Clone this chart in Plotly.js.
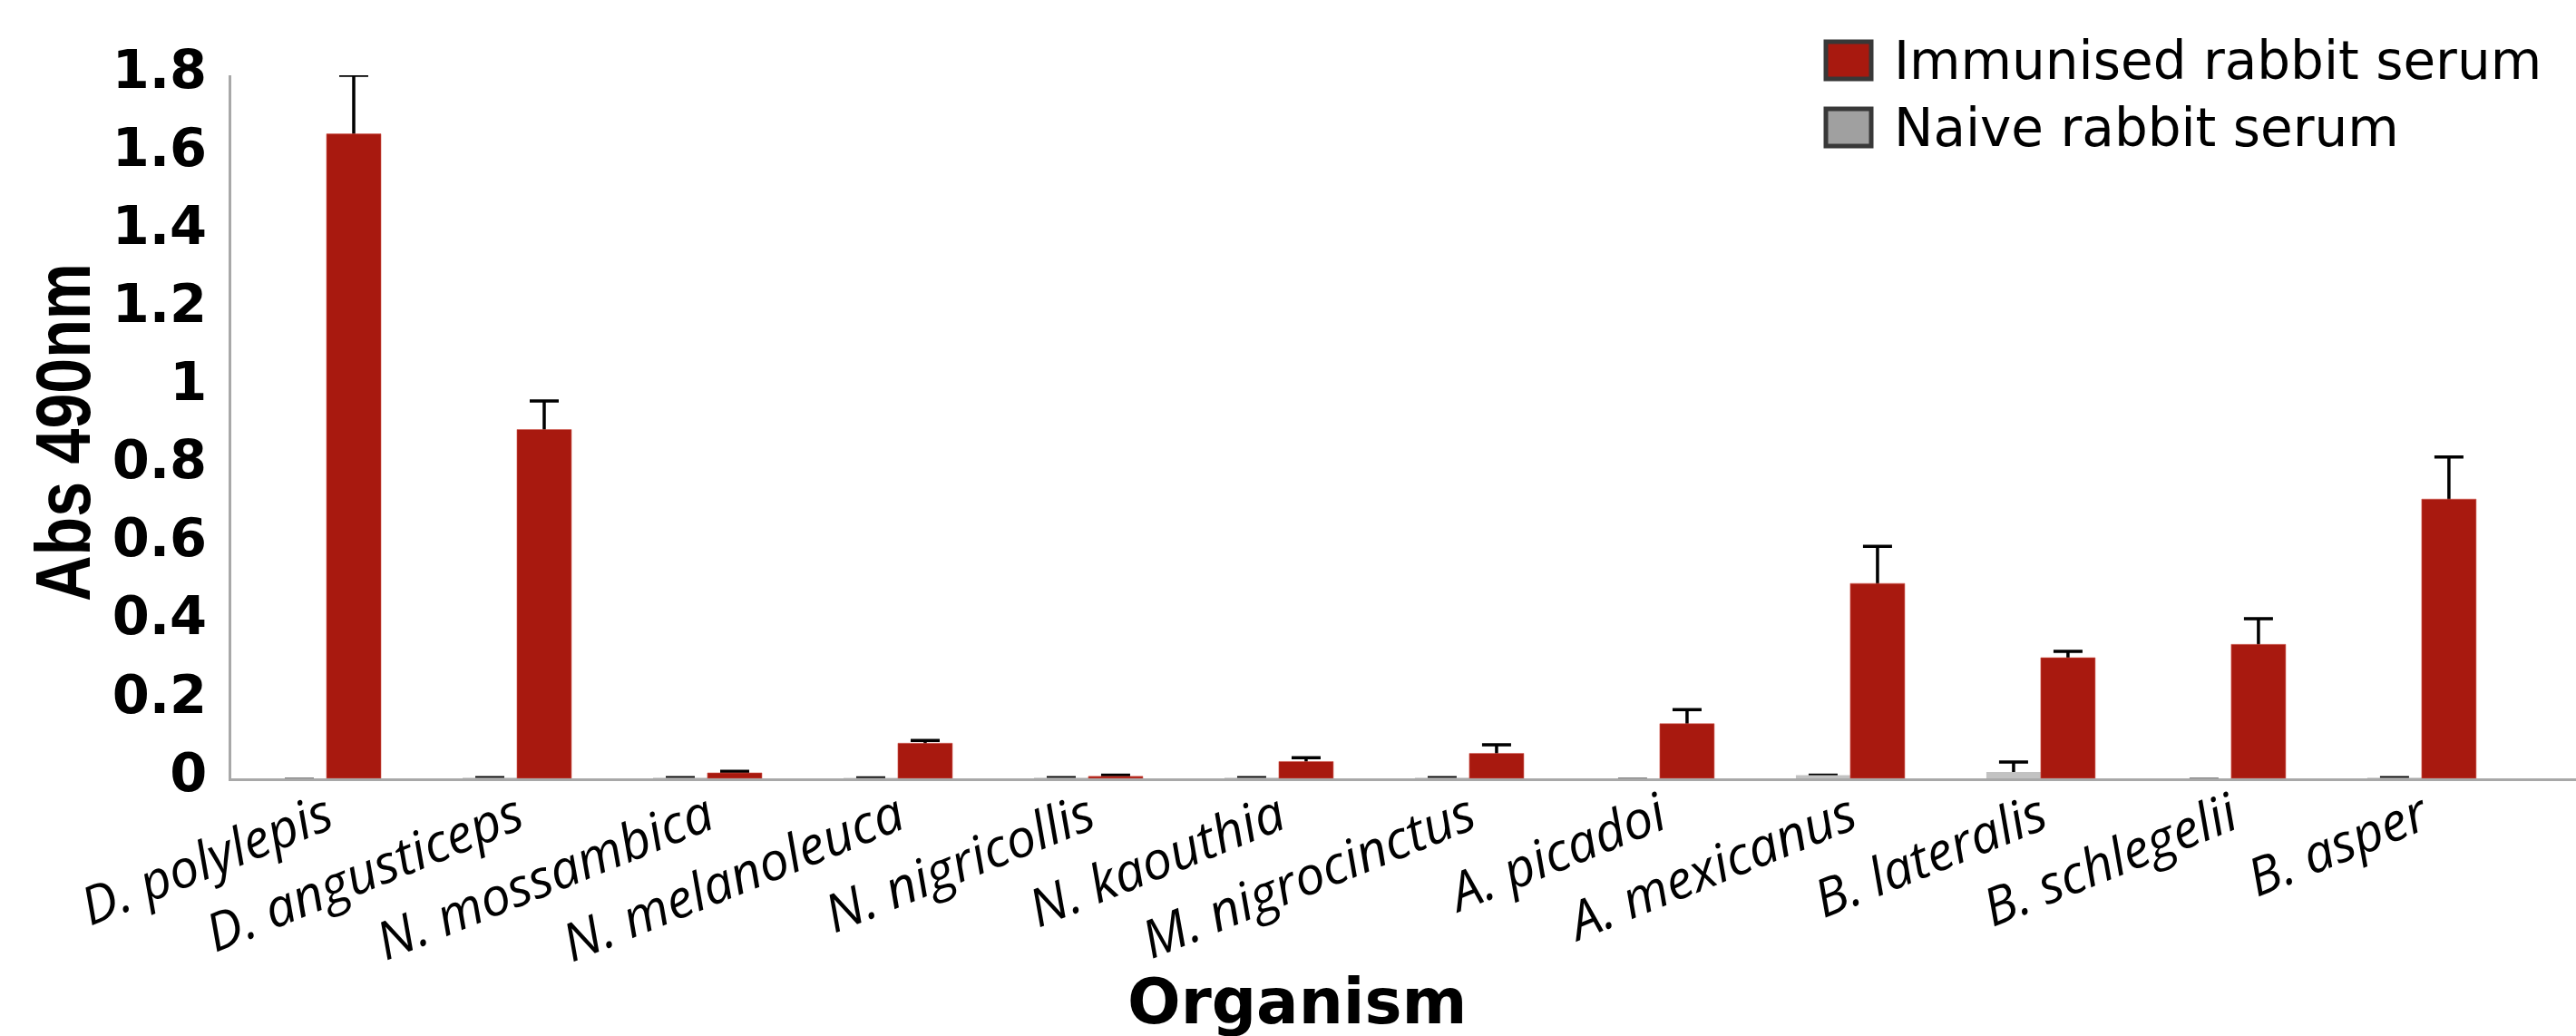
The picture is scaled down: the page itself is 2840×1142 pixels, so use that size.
<!DOCTYPE html>
<html>
<head>
<meta charset="utf-8">
<script src="https://cdn.plot.ly/plotly-3.0.1.min.js"></script>
<style>html,body{margin:0;padding:0;background:#fff;}#chart{width:2840px;height:1142px;}</style>
</head>
<body>
<div id="chart"></div>
<script>
const categories = ['D. polylepis','D. angusticeps','N. mossambica','N. melanoleuca','N. nigricollis','N. kaouthia','M. nigrocinctus','A. picadoi','A. mexicanus','B. lateralis','B. schlegelii','B. asper'];
const seriesNames = ['Immunised rabbit serum','Naive rabbit serum'];
const seriesColors = ['#A8190F','#A0A0A0'];
const naiveBarColor = '#C2C2C2';
const naiveValues = [-0.003, 0.002, 0.002, 0.001, 0.002, 0.002, 0.002, -0.003, 0.008, 0.016, -0.003, 0.002];
const naiveErrors = [0, 0, 0, 0, 0, 0, 0, 0, 0, 0.026, 0, 0];
const immunisedValues = [1.65, 0.893, 0.014, 0.090, 0.005, 0.043, 0.064, 0.140, 0.499, 0.309, 0.343, 0.715];
const immunisedErrors = [0.15, 0.073, 0.004, 0.007, 0.003, 0.010, 0.022, 0.036, 0.095, 0.016, 0.066, 0.108];
const yTicks = [0, 0.2, 0.4, 0.6, 0.8, 1, 1.2, 1.4, 1.6, 1.8];

const clear = 'rgba(0,0,0,0)';
function errSpec(plus, values) {
  // lower end of the bar goes down to the axis, so it hides behind the filled bar
  return {type: 'data', symmetric: false, array: plus, arrayminus: values.map(v => Math.max(v, 0)),
          color: '#000000', thickness: 3.5, width: 16};
}

const traces = [
  // error bars first (drawn underneath the bars so only the upper whisker shows)
  {type: 'bar', name: seriesNames[1], x: categories, y: naiveValues, offsetgroup: 'naive',
   marker: {color: clear}, error_y: errSpec(naiveErrors, naiveValues), showlegend: false, hoverinfo: 'skip'},
  {type: 'bar', name: seriesNames[0], x: categories, y: immunisedValues, offsetgroup: 'imm',
   marker: {color: clear}, error_y: errSpec(immunisedErrors, immunisedValues), showlegend: false, hoverinfo: 'skip'},
  // visible bars
  {type: 'bar', name: seriesNames[1], x: categories, y: naiveValues, offsetgroup: 'naive',
   marker: {color: naiveBarColor}, showlegend: false},
  {type: 'bar', name: seriesNames[0], x: categories, y: immunisedValues, offsetgroup: 'imm',
   marker: {color: seriesColors[0], line: {color: 'rgba(210,90,80,0.6)', width: 1}}, showlegend: false}
];

// custom legend (large square swatches with dark border)
const legendRows = [
  {name: seriesNames[0], color: seriesColors[0], y0: 46, y1: 87, cy: 67},
  {name: seriesNames[1], color: seriesColors[1], y0: 120, y1: 161, cy: 141}
];
const shapes = [];
const annotations = [];
legendRows.forEach(r => {
  shapes.push({type: 'rect', xref: 'paper', yref: 'paper',
    x0: (2013 - 255) / 2585, x1: (2063 - 255) / 2585,
    y0: (858 - r.y1) / 775, y1: (858 - r.y0) / 775,
    fillcolor: r.color, line: {color: '#383838', width: 5}});
  annotations.push({xref: 'paper', yref: 'paper', x: (2086 - 255) / 2585, y: (858 - r.cy) / 775,
    xanchor: 'left', yanchor: 'middle', showarrow: false, text: r.name,
    font: {family: 'DejaVu Sans', size: 58, color: '#000000'}});
});
annotations.push({xref: 'paper', yref: 'paper', x: (1430 - 255) / 2585, y: (858 - 1062) / 775,
  xanchor: 'center', yanchor: 'top', showarrow: false, text: '<b>Organism</b>',
  font: {family: 'DejaVu Sans', size: 69, color: '#000000'}});

const layout = {
  width: 2840, height: 1142,
  margin: {l: 255, r: 0, t: 83, b: 284, pad: 0},
  paper_bgcolor: '#ffffff', plot_bgcolor: '#ffffff',
  barmode: 'group', bargap: 0.4286, bargroupgap: 0,
  showlegend: false,
  xaxis: {
    type: 'category', range: [-0.5, 11.81],
    showline: true, linecolor: '#A8A8A8', linewidth: 3,
    showgrid: false, zeroline: false, ticks: '',
    tickangle: -22,
    tickfont: {family: 'Open Sans', size: 58, color: '#000000', style: 'italic'},
    ticklabelstandoff: -17
  },
  yaxis: {
    range: [0, 1.8],
    tickvals: yTicks,
    showline: true, linecolor: '#A8A8A8', linewidth: 3,
    showgrid: false, zeroline: false, ticks: '',
    tickfont: {family: 'DejaVu Sans', size: 59, color: '#000000', weight: 'bold'},
    ticklabelstandoff: 12, ticklabelshift: -7,
    title: {text: '<b>Abs 490nm</b>', standoff: 13,
      font: {family: 'Liberation Sans', size: 86, color: '#000000'}}
  },
  shapes: shapes,
  annotations: annotations
};

Plotly.newPlot('chart', traces, layout, {displayModeBar: false, staticPlot: true}).then(gd => {
  // the reference y title is a condensed bold face: narrow it along its reading direction
  const t = gd.querySelector('text.ytitle');
  if (t) {
    const x = parseFloat(t.getAttribute('x')), y = parseFloat(t.getAttribute('y'));
    t.setAttribute('transform',
      'translate(17,6) rotate(-90,' + x + ',' + y + ') translate(' + x + ',' + y + ') scale(0.813,1) translate(' + (-x) + ',' + (-y) + ')');
  }
});
</script>
</body>
</html>
